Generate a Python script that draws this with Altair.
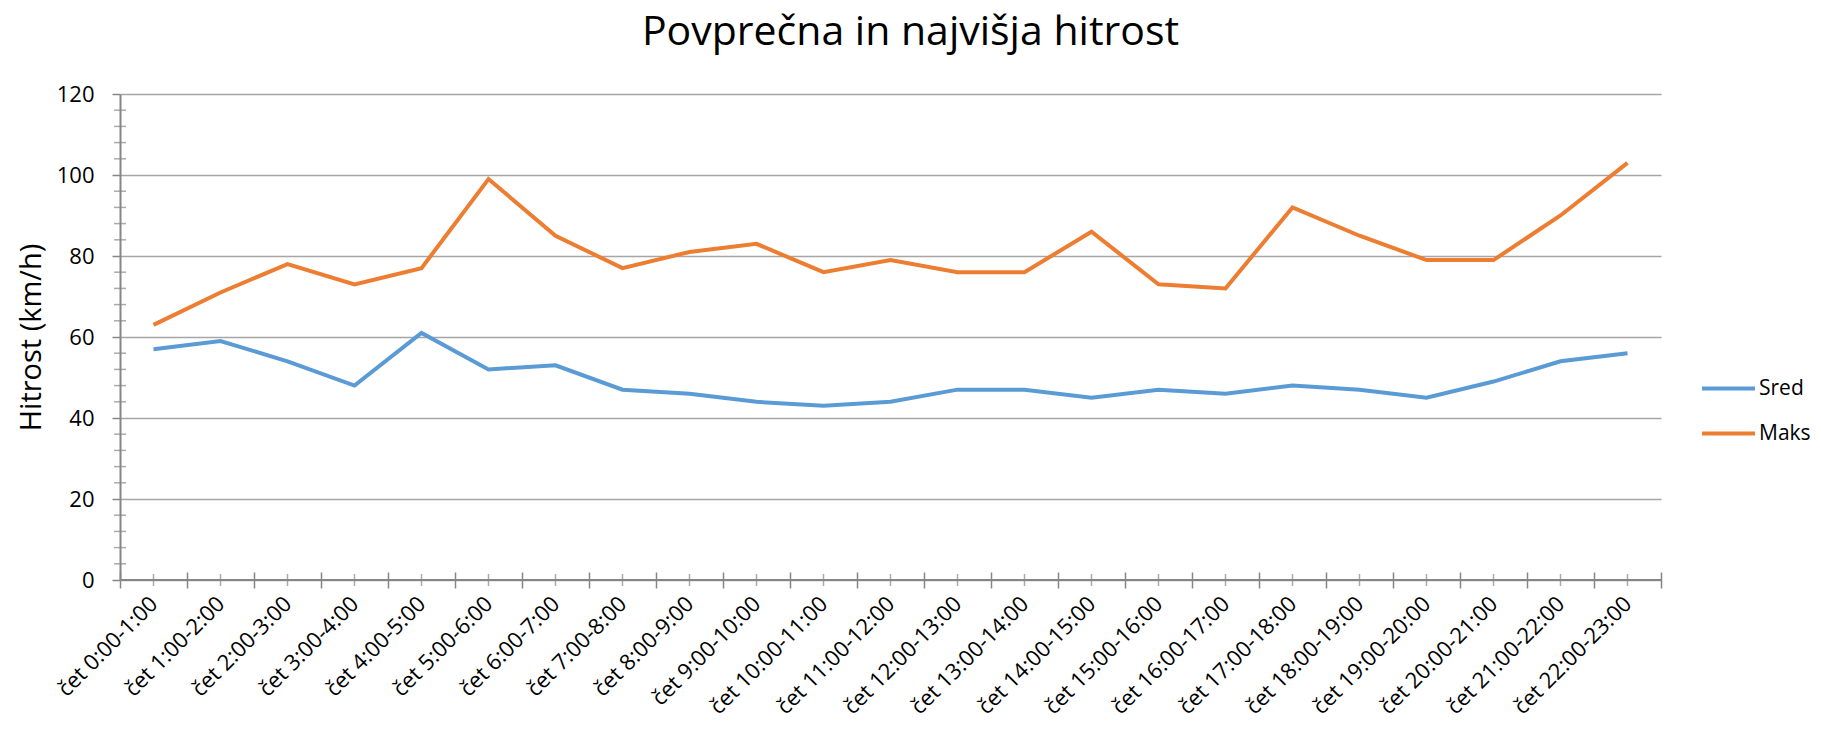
import altair as alt
import pandas as pd

categories = [
    "čet 0:00-1:00", "čet 1:00-2:00", "čet 2:00-3:00", "čet 3:00-4:00",
    "čet 4:00-5:00", "čet 5:00-6:00", "čet 6:00-7:00", "čet 7:00-8:00",
    "čet 8:00-9:00", "čet 9:00-10:00", "čet 10:00-11:00", "čet 11:00-12:00",
    "čet 12:00-13:00", "čet 13:00-14:00", "čet 14:00-15:00", "čet 15:00-16:00",
    "čet 16:00-17:00", "čet 17:00-18:00", "čet 18:00-19:00", "čet 19:00-20:00",
    "čet 20:00-21:00", "čet 21:00-22:00", "čet 22:00-23:00",
]
sred = [57, 59, 54, 48, 61, 52, 53, 47, 46, 44, 43, 44, 47, 47, 45, 47, 46, 48, 47, 45, 49, 54, 56]
maks = [63, 71, 78, 73, 77, 99, 85, 77, 81, 83, 76, 79, 76, 76, 86, 73, 72, 92, 85, 79, 79, 90, 103]
series_names = ["Sred", "Maks"]
series_colors = ["#5B9BD5", "#ED7D31"]
y_major = [0, 20, 40, 60, 80, 100, 120]
y_minor = [4, 8, 12, 16, 24, 28, 32, 36, 44, 48, 52, 56, 64, 68, 72, 76,
           84, 88, 92, 96, 104, 108, 112, 116]

W, H = 1541, 486
FONT = "Open Sans"
AXIS_GRAY = "#868686"
GRID_GRAY = "#A6A6A6"

df = pd.DataFrame({
    "cat": categories * 2,
    "series": [series_names[0]] * len(sred) + [series_names[1]] * len(maks),
    "value": sred + maks,
})
df_cats = pd.DataFrame({"cat": categories})
df_minor = pd.DataFrame({"value": y_minor})

x_scale = alt.Scale(type="band", paddingInner=0, paddingOuter=0, domain=categories)
y_scale = alt.Scale(domain=[0, 120], nice=False, zero=True)

x_axis = alt.Axis(
    title=None, domain=False, grid=False, tickBand="extent", tickSize=16,
    offset=-8, tickColor=AXIS_GRAY, tickWidth=1.5, labelAngle=-45,
    labelAlign="right", labelBaseline="middle", labelFont=FONT,
    labelFontSize=22, labelColor="black", labelPadding=12, labelOverlap=False,
)
y_axis = alt.Axis(
    values=y_major, title="Hitrost (km/h)", titleFont=FONT, titleFontSize=29,
    titleFontWeight="normal", titleColor="black", titleAngle=270,
    titleX=-89, titleY=H / 2, titleAlign="center", titleBaseline="middle",
    tickSize=8, tickColor=AXIS_GRAY, tickWidth=1.5, domainColor=AXIS_GRAY,
    domainWidth=2, gridColor=GRID_GRAY, gridWidth=1.5, labelPadding=18,
    labelFont=FONT, labelFontSize=22, labelColor="black",
)

x_enc = alt.X("cat:N", sort=categories, scale=x_scale, bandPosition=0.5, axis=x_axis)
y_enc = alt.Y("value:Q", scale=y_scale, axis=y_axis)

lines = alt.Chart(df).mark_line(strokeWidth=4).encode(
    x=x_enc,
    y=y_enc,
    color=alt.Color(
        "series:N",
        scale=alt.Scale(domain=series_names, range=series_colors),
        legend=alt.Legend(
            title=None, orient="none", legendX=1580, legendY=266,
            symbolType="stroke", symbolSize=2809, symbolStrokeWidth=4,
            labelFont=FONT, labelFontSize=21, labelColor="black",
            rowPadding=6, labelOffset=2,
        ),
    ),
)

x_axis_line = alt.Chart(df_cats).mark_rule(color=AXIS_GRAY, strokeWidth=2).encode(
    y=alt.datum(0, scale=y_scale, axis=y_axis)
)

center_ticks = alt.Chart(df_cats).mark_tick(
    orient="vertical", size=12, thickness=1.5, color=AXIS_GRAY
).encode(
    x=x_enc,
    y=alt.datum(0),
)

minor_ticks = alt.Chart(df_minor).mark_tick(
    orient="horizontal", size=12, thickness=1.5, color=AXIS_GRAY
).encode(
    y=y_enc,
    x=alt.value(0),
)

chart = alt.layer(lines, x_axis_line, center_ticks, minor_ticks).properties(
    width=W, height=H,
    title=alt.TitleParams(
        "Povprečna in najvišja hitrost", font=FONT, fontSize=41,
        fontWeight="normal", color="black", anchor="middle", dx=20, dy=3,
        offset=0, baseline="alphabetic",
    ),
    autosize=alt.AutoSizeParams(type="none"),
    padding={"left": 112, "top": 86, "right": 152, "bottom": 146},
).configure(background="white").configure_view(stroke=None)

chart.save("out.html", embed_options={"renderer": "svg", "actions": False})
